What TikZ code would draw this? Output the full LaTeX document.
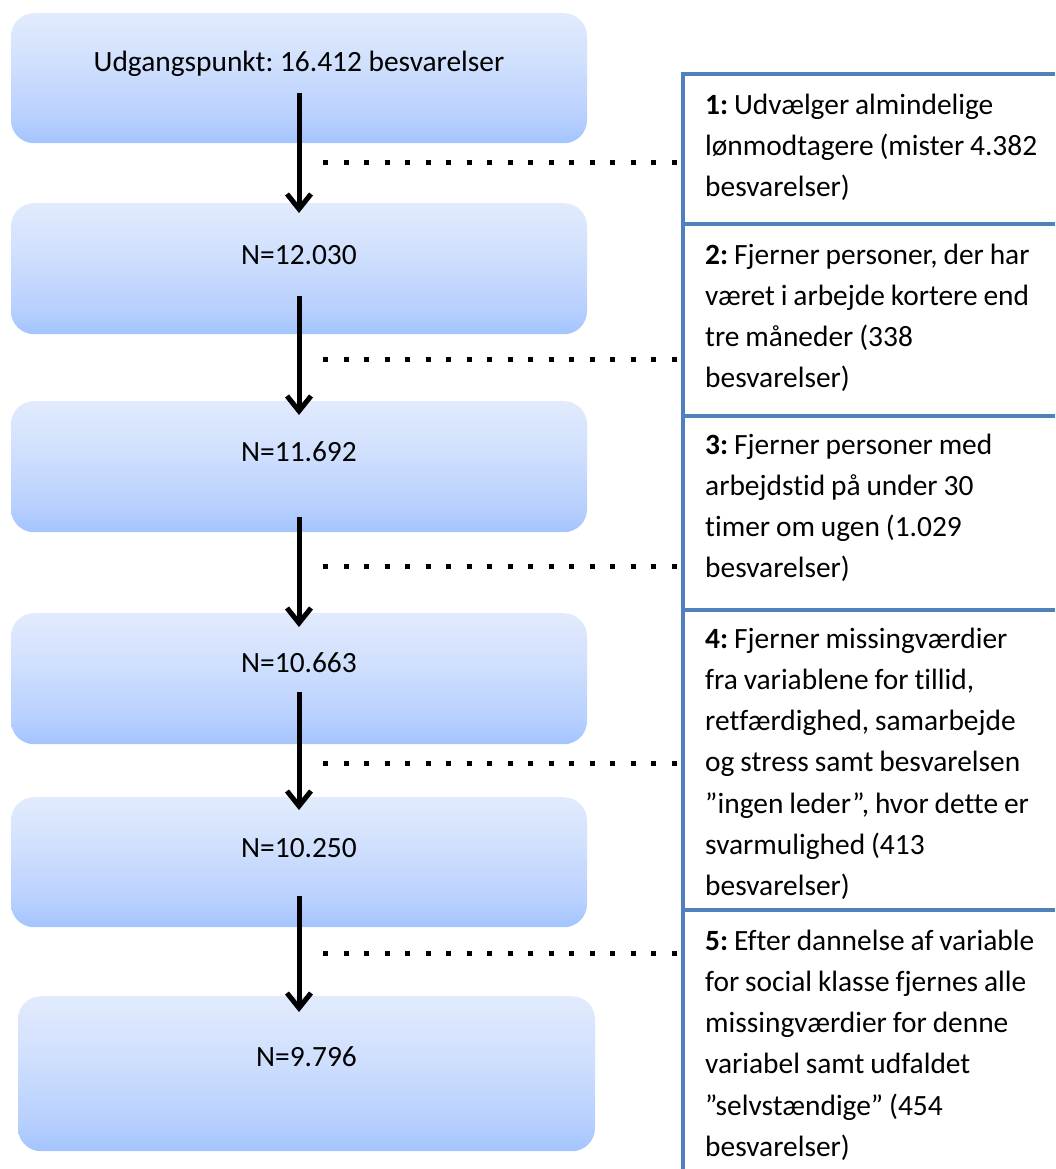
\documentclass[tikz,border=0pt]{standalone}
\usepackage{fontspec}
\setmainfont{Carlito}[Ligatures=CommonOff]
\usetikzlibrary{arrows.meta}
\definecolor{gtop}{RGB}{226,235,253}
\definecolor{gmid}{RGB}{207,223,253}
\definecolor{glow}{RGB}{184,208,254}
\definecolor{gbot}{RGB}{163,196,254}
\definecolor{panelblue}{RGB}{79,129,189}
\pgfdeclareverticalshading{boxgrad}{100bp}{color(0bp)=(gbot); color(25bp)=(gbot); color(35bp)=(glow); color(55bp)=(gmid); color(75bp)=(gtop); color(100bp)=(gtop)}
\newcommand\cellstart{\spaceskip=0.2em\relax\strut}
\begin{document}
\frenchspacing
\begin{tikzpicture}[x=1pt,y=-1pt,
  flowbox/.style={shading=boxgrad, rounded corners=23pt, inner sep=0pt, minimum width=576pt, anchor=north, font=\fontsize{29.4}{34}\selectfont},
  cell/.style={anchor=north west, inner sep=0pt, text width=350pt, align=left, font=\fontsize{29.4}{41.2}\selectfont},
  flowarrow/.style={line width=5pt, -{Straight Barb[length=15pt,width=24pt]}},
  dotline/.style={line width=5pt, dash pattern=on 5pt off 15.5pt},
  panelrule/.style={panelblue, line width=4.3pt}
]
\useasboundingbox (0,0) rectangle (1055,1169);

% flow boxes
\node[flowbox, text height=58pt, text depth=72pt] (b1) at (299,13) {Udgangspunkt: 16.412 besvarelser};
\node[flowbox, text height=61pt, text depth=70pt] (b2) at (299,203) {N=12.030};
\node[flowbox, text height=60pt, text depth=71pt] (b3) at (299,401) {N=11.692};
\node[flowbox, text height=59pt, text depth=72pt] (b4) at (299,613) {N=10.663};
\node[flowbox, text height=60pt, text depth=70pt] (b5) at (299,797) {N=10.250};
\node[flowbox, text height=70pt, text depth=85pt, minimum width=577pt] (b6) at (306.5,996) {N=9.796};

% arrows
\draw[flowarrow] ([yshift=-22pt]b1.base) -- ([yshift=-10pt]b2.north);
\draw[flowarrow] ([yshift=-32pt]b2.base) -- ([yshift=-14pt]b3.north);
\draw[flowarrow] ([yshift=-56pt]b3.base) -- ([yshift=-14pt]b4.north);
\draw[flowarrow] ([yshift=-20pt]b4.base) -- ([yshift=-13pt]b5.north);
\draw[flowarrow] ([yshift=-39pt]b5.base) -- ([yshift=-16pt]b6.north -| b5.south);

% dotted leaders
\coordinate (d1a) at (323,163); \coordinate (d1b) at (677,163);
\coordinate (d2a) at (323,359); \coordinate (d2b) at (677,359);
\coordinate (d3a) at (323,566); \coordinate (d3b) at (677,566);
\coordinate (d4a) at (323,763); \coordinate (d4b) at (677,763);
\coordinate (d5a) at (323,953); \coordinate (d5b) at (677,953);
\draw[dotline] (d1a) -- (d1b);
\draw[dotline] (d2a) -- (d2b);
\draw[dotline] (d3a) -- (d3b);
\draw[dotline] (d4a) -- (d4b);
\draw[dotline] (d5a) -- (d5b);

% panel
\draw[panelrule] (683,71.85) -- (683,1169);
\draw[panelrule] (680.85,74) -- (1055,74);
\draw[panelrule] (683,224) -- (1055,224);
\draw[panelrule] (683,416) -- (1055,416);
\draw[panelrule] (683,610) -- (1055,610);
\draw[panelrule] (683,910) -- (1055,910);

\node[cell] (c1) at (705,85.2) {\cellstart\textbf{1:} Udvælger almindelige\\lønmodtagere (mister 4.382\\besvarelser)};
\node[cell] (c2) at (705,235.2) {\cellstart\textbf{2:} Fjerner personer, der har\\været i arbejde kortere end\\tre måneder (338\\besvarelser)};
\node[cell] (c3) at (705,425.2) {\cellstart\textbf{3:} Fjerner personer med\\arbejdstid på under 30\\timer om ugen (1.029\\besvarelser)};
\node[cell] (c4) at (705,619.2) {\cellstart\textbf{4:} Fjerner missingværdier\\fra variablene for tillid,\\retfærdighed, samarbejde\\og stress samt besvarelsen\\”ingen leder”, hvor dette er\\svarmulighed (413\\besvarelser)};
\node[cell] (c5) at (705,921.2) {\cellstart\textbf{5:} Efter dannelse af variable\\for social klasse fjernes alle\\missingværdier for denne\\variabel samt udfaldet\\”selvstændige” (454\\besvarelser)};
\end{tikzpicture}
\end{document}
